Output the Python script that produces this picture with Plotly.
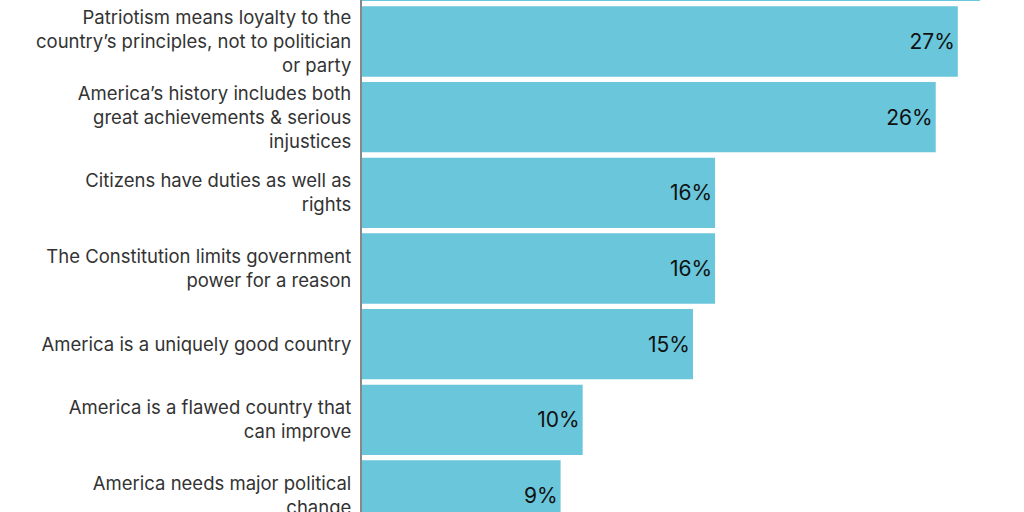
import plotly.graph_objects as go

# Categories, top to bottom (the first one is cut off at the top of the view)
categories = [
    "Top response",
    "Patriotism means loyalty to the<br>country’s principles, not to politician<br>or party",
    "America’s history includes both<br>great achievements & serious<br>injustices",
    "Citizens have duties as well as<br>rights",
    "The Constitution limits government<br>power for a reason",
    "America is a uniquely good country",
    "America is a flawed country that<br>can improve",
    "America needs major political<br>change",
]
values = [28, 27, 26, 16, 16, 15, 10, 9]

fig = go.Figure(
    go.Bar(
        x=values,
        y=categories,
        orientation="h",
        marker=dict(color="#6AC6DB", line=dict(width=0)),
        texttemplate="%{x}%",
        textposition="inside",
        insidetextanchor="end",
        textfont=dict(family="Inter", size=21, color="#111111"),
        cliponaxis=True,
        hoverinfo="skip",
    )
)

fig.update_layout(
    width=1024,
    height=512,
    margin=dict(l=362, r=0, t=0, b=0, autoexpand=False),
    paper_bgcolor="white",
    plot_bgcolor="white",
    bargap=0.07,
    showlegend=False,
    font=dict(family="Inter", size=18, color="#333333"),
)
fig.update_xaxes(
    range=[0, 30],
    visible=False,
    showgrid=False,
    zeroline=False,
    automargin=False,
)
fig.update_yaxes(
    type="category",
    categoryorder="array",
    categoryarray=categories,
    range=[7.218, 0.452],
    automargin=False,
    showgrid=False,
    zeroline=False,
    showline=True,
    linecolor="#888888",
    linewidth=2,
    ticks="",
    ticklabelstandoff=5,
    tickfont=dict(family="Inter", size=18.5, color="#333333"),
)

fig.write_html("out.html")
